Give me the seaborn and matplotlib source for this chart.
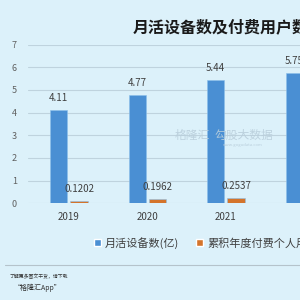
import matplotlib
matplotlib.use("Agg")
import matplotlib.pyplot as plt
import seaborn as sns
import pandas as pd
from matplotlib.patches import Patch
from matplotlib.lines import Line2D

years = ["2019", "2020", "2021", "2022"]
mau = [4.11, 4.77, 5.44, 5.75]
payers = [0.1202, 0.1962, 0.2537, 0.30]
series_names = ["月活设备数(亿)", "累积年度付费个人用户(亿)"]
mau_labels = ["4.11", "4.77", "5.44", "5.75"]
payer_labels = ["0.1202", "0.1962", "0.2537", "0.3000"]
title = "月活设备数及付费用户数"

BG = "#dcf1fa"
BLUE = "#4a8fd3"
ORANGE = "#d4742b"

sns.set_theme(style="white")
plt.rcParams['font.family'] = ['Noto Sans CJK SC', 'DejaVu Sans']

df = pd.DataFrame({
    "year": years * 2,
    "value": mau + payers,
    "series": [series_names[0]] * len(years) + [series_names[1]] * len(years),
})

fig = plt.figure(figsize=(3, 3), dpi=100, facecolor=BG)
ax = fig.add_axes([28 / 300, 1 - 203.3 / 300, 1 - 28 / 300, (203.3 - 44.6) / 300])
ax.set_facecolor(BG)

sns.barplot(data=df, x="year", y="value", hue="series", palette=[BLUE, ORANGE],
            width=0.52, gap=0.15, ax=ax, legend=False, saturation=1,
            edgecolor="#8cc0ea", linewidth=0.4)

ax.set_ylim(0, 7)
ax.set_xlim(-0.52, (300 - 69) / 78.5)
ax.set_yticks(range(8))
ax.yaxis.grid(True, color="#bfd3de", linewidth=0.8)
ax.set_axisbelow(True)
for s in ax.spines.values():
    s.set_visible(False)
ax.tick_params(axis="both", length=0)
ax.tick_params(axis="y", labelsize=6.5, labelcolor="#606060", pad=8)
ax.tick_params(axis="x", labelsize=7, labelcolor="#404040", pad=6)
ax.set_xlabel("")
ax.set_ylabel("")

labels_all = [mau_labels, payer_labels]
for cont, labs in zip(ax.containers, labels_all):
    ax.bar_label(cont, labels=labs, padding=5, fontsize=7, color="#404040")

fig.text(133 / 300, 1 - 27 / 300, title, fontsize=11.5, fontweight="bold",
         color="#1a1a1a", ha="left", va="center")

# watermark
fig.text(175 / 300, 1 - 135 / 300, "格隆汇", fontsize=8.5, color="#b9cedb",
         ha="left", va="center", alpha=0.9)
fig.text(215 / 300, 1 - 135 / 300, "勾股大数据", fontsize=8.5, color="#b9cedb",
         ha="left", va="center", alpha=0.9)
fig.text(223 / 300, 1 - 145 / 300, "www.gogudata.com", fontsize=3, color="#b9cedb",
         ha="left", va="center")

handles = [Patch(facecolor=BLUE), Patch(facecolor=ORANGE)]
fig.legend(handles, series_names, loc="center left",
           bbox_to_anchor=(84 / 300, 1 - 243 / 300), ncol=2, frameon=False,
           fontsize=8, handlelength=0.6, handleheight=0.6, handletextpad=0.4,
           columnspacing=1.5, labelcolor="#404040")

fig.add_artist(Line2D([5 / 300, 1.0], [1 - 265 / 300, 1 - 265 / 300],
                      color="#b5c3cb", linewidth=0.8))
fig.text(10 / 300, 1 - 276 / 300, "了解更多图文干货，请下载", fontsize=3.5,
         style="italic", color="#333333", ha="left", va="center")
fig.text(14 / 300, 1 - 288 / 300, "“格隆汇App”", fontsize=5, style="italic",
         color="#333333", ha="left", va="center")

fig.savefig("out.png", dpi=100, facecolor=BG)
